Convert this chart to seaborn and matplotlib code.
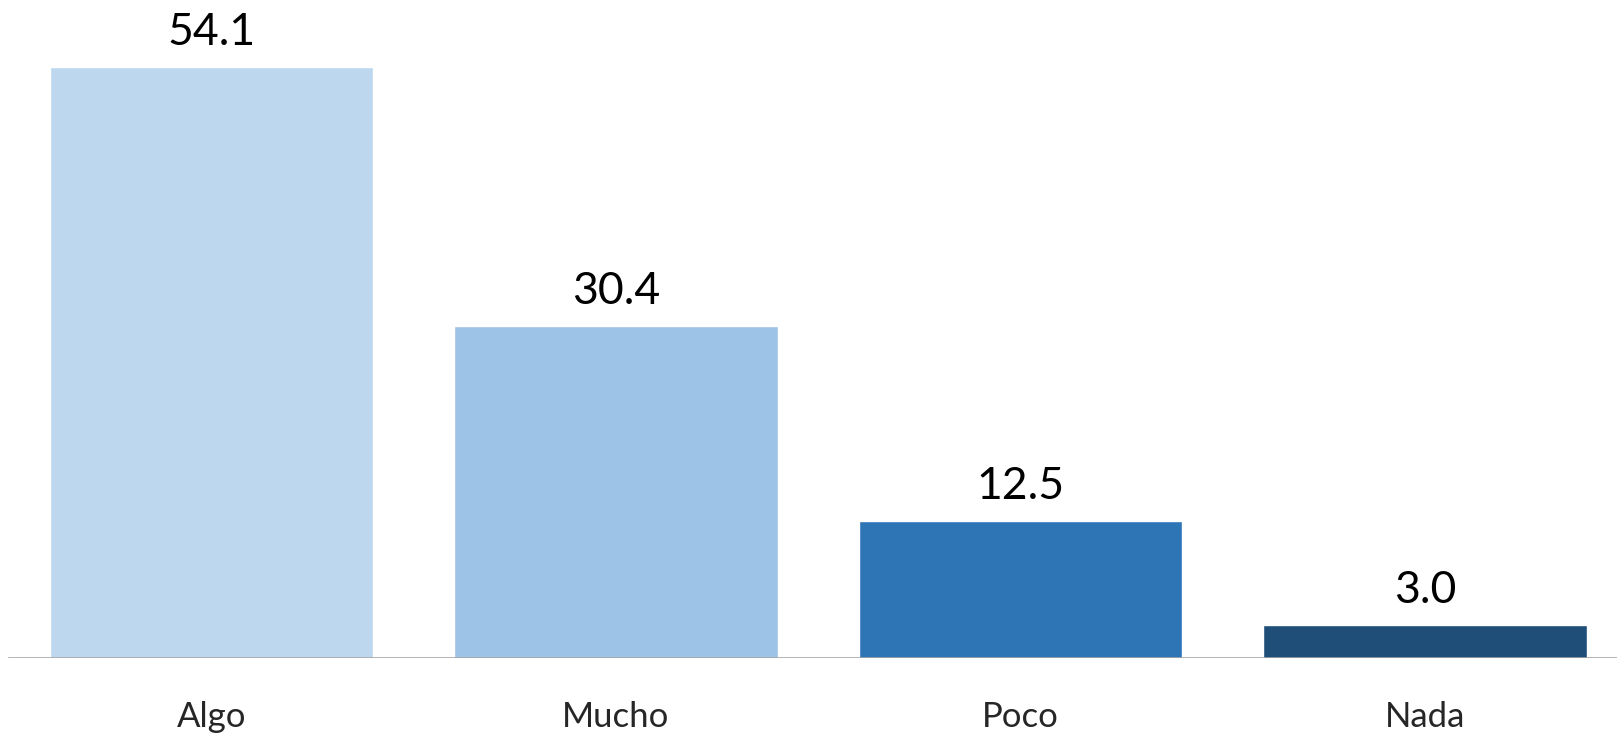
import matplotlib
matplotlib.use("Agg")
import matplotlib.pyplot as plt
import pandas as pd
import seaborn as sns

categories = ["Algo", "Mucho", "Poco", "Nada"]
values = [54.1, 30.4, 12.5, 3.0]
colors = ["#BDD7EE", "#9DC3E6", "#2E75B6", "#1F4E79"]

sns.set_style("white")
plt.rcParams["font.family"] = ["Lato", "DejaVu Sans"]

df = pd.DataFrame({"cat": categories, "val": values})

fig = plt.figure(figsize=(16.17, 7.34), dpi=100)
ax = fig.add_axes([8 / 1617, 1 - 658 / 734, 1 - 8 / 1617, 658 / 734])
sns.barplot(data=df, x="cat", y="val", hue="cat", palette=colors,
            width=0.8, legend=False, saturation=1, ax=ax)

for c in ax.containers:
    ax.bar_label(c, fmt="%.1f", padding=10, fontsize=32, color="black")

ax.set_xlim(-0.503, 3.475)
ax.set_ylim(0, 60.2)
ax.axhline(0, color="#A0A0A0", lw=1.8, zorder=5)
for s in ax.spines.values():
    s.set_visible(False)
ax.set_yticks([])
ax.set_xlabel("")
ax.set_ylabel("")
ax.tick_params(axis="x", length=0, pad=31, labelsize=25)

fig.savefig("out.png", dpi=100)
